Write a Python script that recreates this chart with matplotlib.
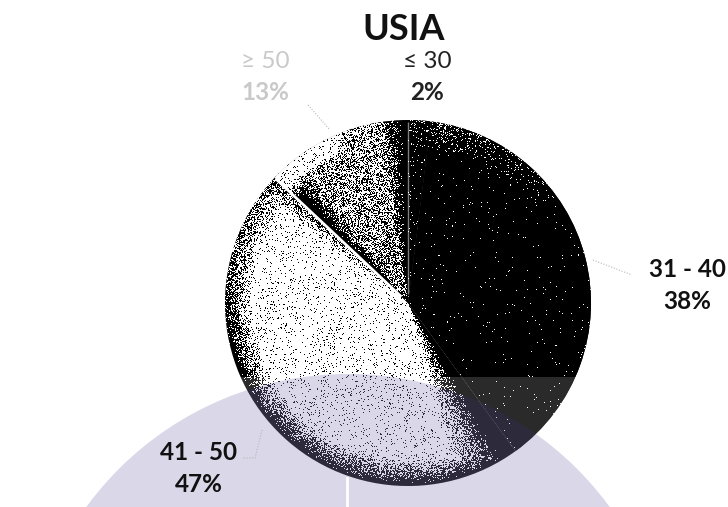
import numpy as np
import matplotlib
matplotlib.use("Agg")
import matplotlib.pyplot as plt
from matplotlib.patches import Circle, PathPatch
from matplotlib.path import Path

# ---- data -------------------------------------------------------------
title = "USIA"
groups = ["≤ 30", "31 - 40", "41 - 50", "≥ 50"]
shares = [2, 38, 47, 13]
pct_labels = [f"{s}%" for s in shares]
# label positions (pixels from top-left) and colours
label_xy = [(427, 68), (687, 277), (199, 460), (265, 68)]
label_color = ["#222222", "#111111", "#111111", "#c9c9c9"]
label_weight = ["normal", "bold", "bold", "normal"]

W, H = 728, 507
fig = plt.figure(figsize=(W / 100, H / 100), dpi=100)
ax = fig.add_axes([0, 0, 1, 1])

# pie geometry (pixel units, y up)
cx, cy, R = 408, H - 303, 183
wedges, _ = ax.pie(shares, startangle=90, counterclock=False,
                   center=(cx, cy), radius=R,
                   colors=["#111111", "#080808", "#e6e6e6", "#999999"],
                   wedgeprops=dict(linewidth=0, zorder=1))
ax.set_xlim(0, W)
ax.set_ylim(0, H)
ax.set_aspect("equal")
ax.axis("off")

# ---- stipple texture, one image per wedge, clipped to it ---------------
n = 2 * R
yy, xx = np.mgrid[0:n, 0:n]
dx, dy = xx + 0.5 - R, yy + 0.5 - R
rr = np.hypot(dx, dy) / R
ang = np.degrees(np.arctan2(dy, dx))
# integer hash (lowbias32) -> even grain
h = (yy * 1031 + xx + 17).astype(np.uint32)
h ^= h >> np.uint32(16)
h *= np.uint32(0x7feb352d)
h ^= h >> np.uint32(15)
h *= np.uint32(0x846ca68b)
h ^= h >> np.uint32(16)
noise = h.astype(np.float64) / 2 ** 32


def clip01(a):
    return np.clip(a, 0, 1)


def tone(i, rel):
    if i == 0:
        return 0.04 + 0.15 * clip01((rr - 0.88) / 0.12)
    if i == 1:
        return 0.008 + 0.25 * clip01((rr - 0.82) / 0.18) * clip01((rel - 0.65) / 0.3)
    if i == 2:
        rim = clip01((rr - 0.85) / 0.14) * (0.55 + 0.45 * clip01((rel - 0.15) / 0.2))
        sep = clip01((0.04 - rel) / 0.04) * 0.6
        edge = clip01((rel - 0.88) / 0.09)
        return 0.93 * (1 - np.maximum(np.maximum(rim, sep), edge))
    inner = 0.6 * (1 - np.maximum(clip01((rel - 0.78) / 0.18),
                                  clip01((0.22 - rel) / 0.18)))
    inner = inner - 0.2 * clip01((0.5 - rr) / 0.5)
    rim = 0.9 * clip01((rr - 0.83) / 0.08) * clip01((rel - 0.3) / 0.2)
    return np.maximum(inner, rim)


for i, w in enumerate(wedges):
    span = w.theta2 - w.theta1
    rel = ((ang - w.theta1) % 360) / span
    lv = tone(i, rel)
    white = noise < lv
    img = np.zeros((n, n, 4))
    img[..., :3] = white[..., None].astype(float)
    img[..., 3] = 1
    im = ax.imshow(img, extent=(cx - R, cx + R, cy - R, cy + R),
                   origin="lower", interpolation="nearest", zorder=2)
    im.set_clip_path(w)

# white separators where slices meet (only the visible ones)
for w, lw, a in [(wedges[2], 2.0, 1.0), (wedges[3], 1.0, 0.5)]:
    t = np.radians(w.theta1)
    ax.plot([cx + 0.05 * R * np.cos(t), cx + 0.99 * R * np.cos(t)],
            [cy + 0.05 * R * np.sin(t), cy + 0.99 * R * np.sin(t)],
            color="white", lw=lw, alpha=a, zorder=3, solid_capstyle="butt")

# ---- watermark overlays -----------------------------------------------
lc, lr = (348, H - 698), 324
x0, x1, y0, y1 = 30, 712, 0, H - 377
rect = Path([(x0, y0), (x0, y1), (x1, y1), (x1, y0), (x0, y0)],
            [Path.MOVETO, Path.LINETO, Path.LINETO, Path.LINETO, Path.CLOSEPOLY])
circ = Path.circle(lc, lr)
hole = Path(np.concatenate([circ.vertices[-2::-1], circ.vertices[-1:]]),
            circ.codes)
band = Path.make_compound_path(rect, hole)
ax.add_patch(PathPatch(band, facecolor="white", edgecolor="none",
                       alpha=0.17, zorder=5))
ax.add_patch(Circle(lc, lr, facecolor="#372c85", edgecolor="none",
                    alpha=0.19, zorder=5))
ax.plot([347, 347], [0, H - 478], color="white", lw=2, zorder=6)

# ---- leader lines -----------------------------------------------------
lead = dict(color="#b8b8b8", lw=0.8, ls=(0, (1, 1.5)), zorder=6)
ax.plot([593, 632], [H - 260, H - 275], **lead)
ax.plot([262, 255, 242], [H - 430, H - 458, H - 458], **lead)
ax.plot([308, 330], [H - 105, H - 130], **lead)

# ---- text -------------------------------------------------------------
font = "Lato"
ax.text(404, H - 40, title, ha="center", va="baseline", fontsize=26,
        fontweight="bold", family=font, color="#111111", zorder=7)
for g, p, (x, y), c, fw in zip(groups, pct_labels, label_xy, label_color, label_weight):
    ax.text(x, H - y, g, ha="center", va="baseline", fontsize=17.5,
            fontweight=fw, family=[font, "DejaVu Sans"], color=c, zorder=7)
    ax.text(x, H - y - 32, p, ha="center", va="baseline", fontsize=17.5,
            fontweight="bold", family=font, color=c, zorder=7)

fig.savefig("out.png", dpi=100)
